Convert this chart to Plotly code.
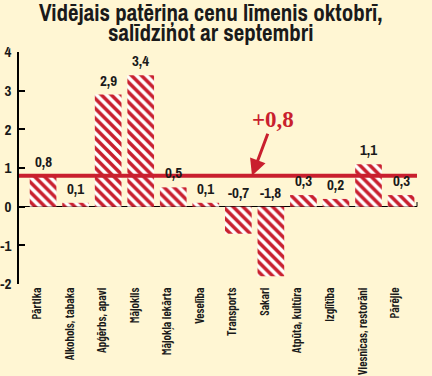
import plotly.graph_objects as go

categories = ["Pārtika", "Alkohols, tabaka", "Apģērbs, apavi", "Mājoklis",
              "Mājokļa iekārta", "Veselība", "Transports", "Sakari",
              "Atpūta, kultūra", "Izglītība", "Viesnīcas, restorāni", "Pārējie"]
values = [0.8, 0.1, 2.9, 3.4, 0.5, 0.1, -0.7, -1.8, 0.3, 0.2, 1.1, 0.3]
average = 0.8
y_ticks = [-2, -1, 0, 1, 2, 3, 4]
title_lines = ["Vidējais patēriņa cenu līmenis oktobrī,", "salīdzinot ar septembri"]

RED = "#C91F2E"
BG = "#FFF6D3"
INK = "#1a1a1a"
TITLE_FONT = "Archivo Narrow, Liberation Sans, sans-serif"
LABEL_FONT = "Barlow Condensed, Archivo Narrow, Liberation Sans, sans-serif"

def fmt(v):
    return f"{v:.1f}".replace(".", ",")

x_idx = list(range(len(categories)))

fig = go.Figure()
fig.add_trace(go.Bar(
    x=x_idx, y=values, width=0.82,
    marker=dict(color=RED, line=dict(width=0),
                pattern=dict(shape="\\", fgcolor=RED, bgcolor="white",
                             size=7, solidity=0.5, fillmode="replace")),
    hoverinfo="skip", showlegend=False,
))

annotations = []
for i, v in enumerate(values):
    annotations.append(dict(
        x=i, y=max(v, 0), xref="x", yref="y", text=fmt(v), showarrow=False,
        yanchor="bottom", yshift=2,
        font=dict(family=TITLE_FONT, size=15, color=INK, weight="bold"),
    ))

annotations.append(dict(
    x=6.42, y=average, xref="x", yref="y",
    text=f"+{fmt(average)}", showarrow=True,
    ax=21, ay=-56, arrowhead=2, arrowsize=1.1, arrowwidth=3, arrowcolor=RED,
    font=dict(family="Liberation Serif, serif", size=23, color=RED, weight="bold"),
))

for k, line in enumerate(title_lines):
    annotations.append(dict(
        x=0.482, xref="paper", y=[1.095, 1.009][k], yref="paper", xanchor="center",
        yanchor="bottom", text=line, showarrow=False,
        font=dict(family=TITLE_FONT, size=23, color=INK, weight="bold"),
    ))

fig.update_layout(
    width=432, height=376,
    margin=dict(l=19, r=15, t=52, b=92),
    paper_bgcolor=BG, plot_bgcolor=BG,
    annotations=annotations,
    shapes=[
        dict(type="line", xref="paper", x0=0, x1=1, yref="y", y0=average, y1=average,
             line=dict(color=RED, width=4), layer="above"),
        dict(type="line", xref="paper", x0=1, x1=1, yref="y", y0=0, y1=0.12,
             line=dict(color="black", width=1), layer="above"),
    ],
    xaxis=dict(
        range=[-0.74, 11.49], tickmode="array", tickvals=x_idx, ticktext=categories,
        tickangle=-90, showgrid=False, zeroline=False, showline=False, ticks="",
        automargin=False, ticklabelshift=-6, ticklabelstandoff=0,
        tickfont=dict(family=LABEL_FONT, size=12.5, color=INK, weight=600),
    ),
    yaxis=dict(
        range=[-2, 4], tickmode="array", tickvals=y_ticks,
        ticktext=[str(t) for t in y_ticks],
        showgrid=False, zeroline=True, zerolinecolor="black", zerolinewidth=1,
        showline=True, linecolor="black", linewidth=1.5,
        ticks="inside", ticklen=6, tickcolor="black", tickwidth=1.5,
        automargin=False, ticklabelstandoff=3,
        tickfont=dict(family=TITLE_FONT, size=15, color=INK, weight="bold"),
    ),
    bargap=0.18,
)

fig.write_html("out.html", config={"displayModeBar": False},
               post_script="document.body.style.margin='0px';document.body.style.background='" + BG + "';")
